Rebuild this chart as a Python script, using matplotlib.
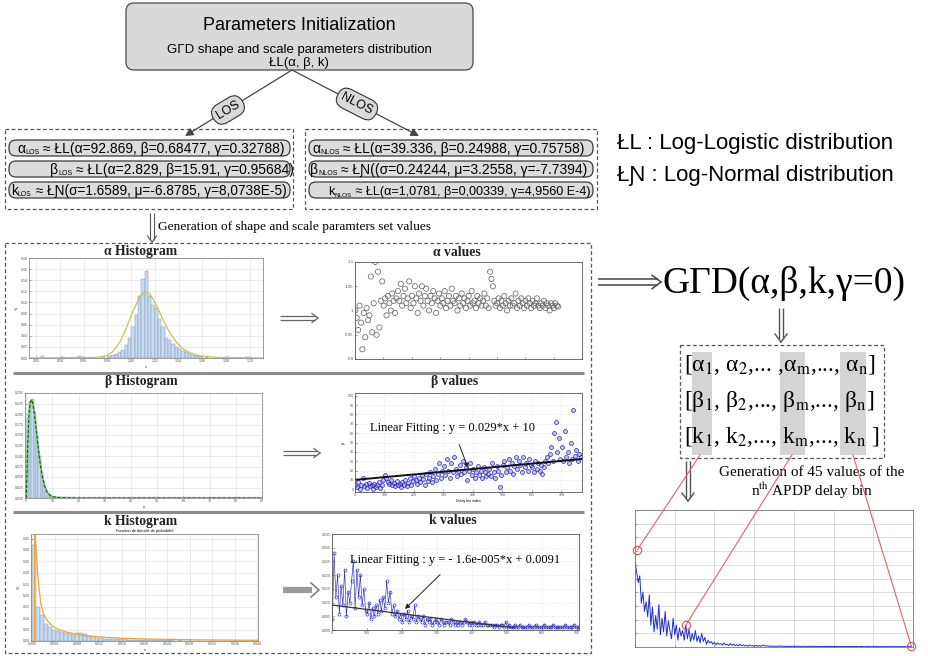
import numpy as np
import matplotlib
matplotlib.use("Agg")
import matplotlib.pyplot as plt
from matplotlib.patches import FancyBboxPatch, Rectangle, ConnectionPatch
from matplotlib.ticker import MultipleLocator, NullFormatter

plt.rcParams['font.family'] = ['Liberation Sans', 'DejaVu Sans']
SERIF = ['Liberation Serif', 'DejaVu Serif']

W, H = 929, 656

# ---------------- values ----------------
top_lines = ["Parameters Initialization",
             "GΓD shape and scale parameters distribution",
             "ŁL(α, β, k)"]
los_rows = [("α", "LOS", " ≈ ŁL(α=92.869, β=0.68477, γ=0.32788)"),
            ("β", "LOS", " ≈ ŁL(α=2.829, β=15.91, γ=0.95684)"),
            ("k", "LOS", " ≈ ŁƝ(σ=1.6589, μ=-6.8785, γ=8,0738E-5)")]
nlos_rows = [("α", "NLOS", " ≈ ŁL(α=39.336, β=0.24988, γ=0.75758)"),
             ("β", "NLOS", " ≈ ŁƝ((σ=0.24244, μ=3.2558, γ=-7.7394)"),
             ("k", "NLOS", " ≈ ŁL(α=1,0781, β=0,00339, γ=4,9560 E-4)")]
legend_lines = ["ŁL : Log-Logistic distribution",
                "ŁƝ : Log-Normal distribution"]
matrix_rows = ["[α$_1$, α$_2$,... ,α$_{\\rm m}$,..., α$_{\\rm n}$]",
               "[β$_1$, β$_2$,..., β$_{\\rm m}$,..., β$_{\\rm n}$]",
               "[k$_1$, k$_2$,..., k$_{\\rm m}$,..., k$_{\\rm n}$ ]"]

# alpha histogram (bin centre, density) and fitted pdf
alpha_hist_x = [0.9256, 0.9425, 0.9566, 0.9594, 0.9763, 0.9820, 0.9848,
                0.9876, 0.9904, 0.9932, 0.9960, 0.9988, 1.0016, 1.0044, 1.0072,
                1.0100, 1.0128, 1.0156, 1.0184, 1.0212, 1.0240, 1.0268, 1.0296,
                1.0324, 1.0352, 1.0380, 1.0408, 1.0436, 1.0464, 1.0492, 1.0520,
                1.0548, 1.0580, 1.0637, 1.0806, 1.0975]
alpha_hist_h = [0.004, 0.002, 0.003, 0.002, 0.002, 0.004, 0.005,
                0.008, 0.010, 0.015, 0.024, 0.036, 0.056, 0.078, 0.112,
                0.143, 0.156, 0.112, 0.096, 0.090, 0.070, 0.055, 0.036,
                0.033, 0.026, 0.020, 0.016, 0.013, 0.010, 0.008, 0.006,
                0.004, 0.003, 0.002, 0.002, 0.002]
alpha_fit_x = [0.914, 0.9707, 0.9792, 0.9848, 0.9904, 0.9961, 1.0017, 1.0073,
               1.0116, 1.0158, 1.0214, 1.0270, 1.0327, 1.0383, 1.0439, 1.0496,
               1.0580, 1.0721, 1.111]
alpha_fit_y = [0.0, 0.001, 0.004, 0.012, 0.028, 0.055, 0.085, 0.110,
               0.120, 0.115, 0.095, 0.068, 0.045, 0.028, 0.016, 0.009,
               0.004, 0.001, 0.0]

# beta histogram
beta_hist_x = [0.5, 1.4, 2.3, 3.2, 4.1, 5.0, 5.9, 6.8, 7.7, 8.6, 9.5, 10.4, 16.5]
beta_hist_h = [0.190, 0.228, 0.236, 0.205, 0.150, 0.100, 0.060, 0.030,
               0.014, 0.007, 0.004, 0.002, 0.001]
beta_fit_x = [0.0, 0.5, 1.0, 1.5, 2.0, 2.5, 3.0, 3.5, 4.0, 5.0, 6.0, 7.0,
              8.0, 9.5, 12.0, 20.0, 90.0]
beta_fit_y = [0.0, 0.120, 0.200, 0.228, 0.234, 0.225, 0.205, 0.180, 0.150,
              0.095, 0.055, 0.028, 0.013, 0.004, 0.001, 0.0, 0.0]

# k histogram
k_hist_x = [0.00035, 0.00105, 0.00175, 0.00245, 0.00315, 0.00385, 0.00455,
            0.00525, 0.00595, 0.00665, 0.00735, 0.00805, 0.00875, 0.00945,
            0.01015, 0.01085, 0.01155, 0.01225, 0.01295, 0.01365, 0.01435,
            0.01505, 0.01575, 0.01645, 0.01715, 0.01785, 0.01855, 0.01925,
            0.01995, 0.02065, 0.02135, 0.02205, 0.02275, 0.02345, 0.02415,
            0.02485, 0.02555, 0.02625, 0.02695, 0.02765, 0.02835, 0.02905,
            0.02975, 0.03045, 0.03115, 0.03185, 0.03255, 0.03325, 0.03395,
            0.03465, 0.03535, 0.03605, 0.03675, 0.03745, 0.03815, 0.03885]
k_hist_h = [0.420, 0.150, 0.113, 0.076, 0.062, 0.047, 0.042, 0.038, 0.035, 0.030,
            0.028, 0.034, 0.036, 0.030, 0.022, 0.018, 0.014, 0.012, 0.010, 0.009,
            0.010, 0.008, 0.007, 0.008, 0.006, 0.005, 0.006, 0.005, 0.004, 0.005,
            0.004, 0.004, 0.003, 0.004, 0.003, 0.003, 0.002, 0.003, 0.002, 0.002,
            0.002, 0.002, 0.001, 0.002, 0.001, 0.001, 0.001, 0.001, 0.001, 0.001,
            0.001, 0.001, 0.001, 0.001, 0.001, 0.002]
k_fit_x = [0.00040, 0.00047, 0.0006, 0.0008, 0.0010, 0.0015, 0.0020, 0.0027,
           0.0035, 0.0044, 0.0060, 0.0074, 0.0090, 0.0120, 0.0160, 0.0200,
           0.0250, 0.0300, 0.0350, 0.0401]
k_fit_y = [0.0, 0.50, 0.45, 0.36, 0.29, 0.17, 0.12, 0.09, 0.068, 0.054,
           0.040, 0.032, 0.025, 0.018, 0.012, 0.009, 0.007, 0.005, 0.004, 0.003]

# generated values, one every 5th delay bin index
alpha_vals = [1.000, 0.985, 0.960, 1.010, 0.975, 0.920, 0.995, 0.945, 1.005, 0.980,
              0.990, 1.070, 0.955, 1.015, 1.100, 0.950, 1.080, 0.965, 1.020, 1.060,
              1.010, 1.025, 0.990, 1.030, 1.015, 1.000, 1.035, 1.020, 0.995, 1.025,
              1.040, 1.020, 1.055, 1.010, 1.030, 1.045, 1.015, 1.025, 1.060, 1.005,
              1.030, 1.015, 1.050, 1.025, 0.995, 1.035, 1.020, 1.050, 1.010, 1.030,
              1.045, 1.020, 1.000, 1.030, 1.015, 1.040, 1.025, 0.995, 1.020, 1.035,
              1.010, 1.025, 1.015, 1.040, 1.005, 1.020, 1.030, 1.010, 1.045, 1.020,
              1.015, 1.030, 1.000, 1.025, 1.010, 1.035, 1.015, 1.025, 1.005, 1.020,
              1.030, 1.010, 1.040, 1.015, 1.020, 1.005, 1.030, 1.015, 1.025, 1.010,
              1.020, 1.035, 1.010, 1.025, 1.005, 1.080, 1.065, 1.050, 1.020, 1.010,
              1.015, 1.025, 1.005, 1.020, 1.010, 1.030, 1.015, 1.000, 1.020, 1.010,
              1.025, 1.010, 1.015, 1.035, 1.005, 1.020, 1.010, 1.025, 1.015, 1.005,
              1.020, 1.010, 1.025, 1.015, 1.005, 1.020, 1.010, 1.015, 1.025, 1.010,
              1.005, 1.015, 1.010, 1.020, 1.005, 1.015, 1.010, 1.000, 1.015, 1.010,
              1.005, 1.015, 1.010, 1.008]
beta_vals = [5, 2, 8, 0, 4, 12, 3, 6, 1, 7,
             3, 5, 0, 6, 2, 4, 8, 1, 5, 10,
             15, 12, 8, 6, 10, 4, 7, 3, 9, 5,
             6, 2, 8, 4, 10, 3, 7, 12, 5, 9,
             14, 10, 6, 12, 8, 15, 11, 5, 16, 9,
             12, 18, 8, 14, 22, 10, 16, 28, 12, 20,
             25, 15, 32, 20, 12, 28, 18, 35, 22, 14,
             20, 26, 16, 30, 18, 24, 10, 20, 28, 15,
             22, 12, 18, 25, 15, 20, 12, 24, 18, 14,
             16, 22, 14, 28, 18, 12, 25, 20, 2, 15,
             26, 30, 18, 24, 32, 20, 28, 16, 25, 34,
             22, 30, 26, 18, 35, 24, 28, 20, 32, 26,
             24, 18, 30, 22, 28, 20, 26, 16, 24, 30,
             35, 28, 38, 45, 30, 60, 72, 40, 55, 32,
             45, 30, 62, 35, 40, 28, 50, 32, 85, 36,
             42, 30, 38, 34]
k_vals = [0.004, 0.028, 0.012, 0.020, 0.006, 0.016, 0.009, 0.022, 0.005, 0.014,
          0.010, 0.018, 0.025, 0.008, 0.022, 0.012, 0.020, 0.009, 0.015, 0.007,
          0.006, 0.010, 0.004, 0.008, 0.005, 0.009, 0.006, 0.011, 0.007, 0.012,
          0.008, 0.018, 0.010, 0.014, 0.006, 0.009, 0.005, 0.007, 0.004, 0.006,
          0.003, 0.006, 0.004, 0.007, 0.003, 0.005, 0.004, 0.009, 0.003, 0.005,
          0.004, 0.003, 0.005, 0.002, 0.004, 0.003, 0.004, 0.002, 0.003, 0.004,
          0.003, 0.002, 0.004, 0.003, 0.002, 0.003, 0.003, 0.002, 0.004, 0.003,
          0.002, 0.003, 0.002, 0.003, 0.002, 0.003, 0.004, 0.003, 0.002, 0.003,
          0.002, 0.003, 0.002, 0.002, 0.003, 0.002, 0.002, 0.003, 0.002, 0.002,
          0.002, 0.002, 0.001, 0.002, 0.002, 0.001, 0.002, 0.002, 0.001, 0.003,
          0.001, 0.002, 0.001, 0.001, 0.002, 0.001, 0.001, 0.002, 0.001, 0.001,
          0.001, 0.001, 0.002, 0.001, 0.001, 0.001, 0.002, 0.001, 0.001, 0.001,
          0.001, 0.002, 0.001, 0.001, 0.001, 0.001, 0.002, 0.001, 0.001, 0.001,
          0.001, 0.001, 0.001, 0.002, 0.001, 0.001, 0.001, 0.001, 0.002, 0.001,
          0.001, 0.001]
beta_fit = (0.029, 10.0)      # y = 0.029*x + 10
k_fit = (-1.6e-5, 0.0091)     # y = -1.6e-005*x + 0.0091

# APDP delay bin: one sample every 2 units
apdp_vals = [0.62, 0.55, 0.47, 0.52, 0.32, 0.40, 0.26, 0.33, 0.22, 0.38,
             0.16, 0.29, 0.11, 0.23, 0.13, 0.31, 0.09, 0.21, 0.11, 0.26,
             0.08, 0.19, 0.12, 0.06, 0.21, 0.09, 0.16, 0.05, 0.14, 0.08,
             0.12, 0.05, 0.16, 0.06, 0.13, 0.04, 0.10, 0.05, 0.12, 0.04,
             0.08, 0.03, 0.10, 0.04, 0.07, 0.02, 0.05, 0.03, 0.04, 0.02,
             0.035, 0.015, 0.030, 0.020, 0.025, 0.012, 0.030, 0.015, 0.020, 0.010,
             0.025, 0.012, 0.020, 0.010, 0.018, 0.008, 0.020, 0.010, 0.015, 0.008,
             0.012, 0.006, 0.015, 0.008, 0.010, 0.005, 0.012, 0.006, 0.010, 0.005,
             0.008, 0.015, 0.006, 0.010, 0.005, 0.008, 0.004, 0.007, 0.005, 0.006,
             0.004, 0.008, 0.005, 0.007, 0.004, 0.006, 0.003, 0.006, 0.004, 0.005,
             0.006, 0.003, 0.007, 0.004, 0.005, 0.003, 0.006, 0.004, 0.003, 0.005,
             0.004, 0.006, 0.003, 0.005, 0.004, 0.003, 0.005, 0.003, 0.004, 0.003,
             0.005, 0.003, 0.004, 0.006, 0.003, 0.004, 0.003, 0.005, 0.003, 0.004,
             0.003, 0.004, 0.003, 0.005, 0.003, 0.004, 0.002, 0.004, 0.003, 0.003,
             0.004, 0.002, 0.003, 0.004, 0.002, 0.003, 0.002, 0.004, 0.003, 0.002,
             0.003, 0.002, 0.004, 0.002, 0.003, 0.002, 0.003, 0.002, 0.003, 0.002,
             0.002, 0.003, 0.002, 0.003, 0.002, 0.002, 0.003, 0.002, 0.002, 0.003,
             0.002, 0.002, 0.003, 0.002, 0.005]
apdp_marks_x = [3, 64, 348]
apdp_marks_y = [0.71, 0.16, 0.005]

# ---------------- drawing ----------------
fig = plt.figure(figsize=(W / 100, H / 100), dpi=100)
ax = fig.add_axes([0, 0, 1, 1])
ax.set_xlim(0, W)
ax.set_ylim(H, 0)
ax.axis('off')


def frac(x0, y0, x1, y1):
    return [x0 / W, 1 - y1 / H, (x1 - x0) / W, (y1 - y0) / H]


def rbox(x0, y0, x1, y1, r=7, fc='#dcdcdc', ec='#3a3a3a', lw=0.9):
    ax.add_patch(FancyBboxPatch((x0, y0), x1 - x0, y1 - y0,
                                boxstyle=f"round,pad=0,rounding_size={r}",
                                fc=fc, ec=ec, lw=lw))


def dbox(x0, y0, x1, y1):
    ax.add_patch(Rectangle((x0, y0), x1 - x0, y1 - y0, fill=False,
                           ec='#555555', lw=0.9, ls=(0, (3, 2))))


def dbl_arrow(x0, y0, x1, y1, gap=2.2, head=7.0, color='#555555', lw=1.1):
    p0 = np.array([x0, y0], float)
    p1 = np.array([x1, y1], float)
    d = (p1 - p0) / np.hypot(*(p1 - p0))
    n = np.array([-d[1], d[0]])
    for s in (1, -1):
        a = p0 + s * gap * n
        b = p1 - d * (gap / 0.75) + s * gap * n
        ax.plot([a[0], b[0]], [a[1], b[1]], color=color, lw=lw, solid_capstyle='butt')
        c = p1 - d * head + s * head * 0.75 * n
        ax.plot([c[0], p1[0]], [c[1], p1[1]], color=color, lw=lw)


def sub_text(x, y, base, sub, rest, fs):
    t1 = ax.text(x, y, base, fontsize=fs, va='baseline', ha='left')
    t2 = ax.annotate(sub, xy=(1, 0), xycoords=t1, fontsize=fs * 0.5,
                     va='bottom', ha='left')
    ax.annotate(rest, xy=(1, 0), xycoords=t2, fontsize=fs, va='bottom', ha='left')


def mini(a, fs=2.6, grid=True, edge='#8a8a8a'):
    a.tick_params(labelsize=fs, length=1.5, width=0.4, pad=1, direction='in',
                  colors='#555555')
    for s in a.spines.values():
        s.set_linewidth(0.6)
        s.set_color(edge)
    if grid:
        a.grid(True, color='#dedede', lw=0.4)
    a.set_axisbelow(True)


# top box
rbox(126, 3, 473, 70, r=8, fc='#d9d9d9', ec='#4a4a4a')
ax.text(299, 25, top_lines[0], fontsize=13, ha='center', va='center')
ax.text(299, 50, top_lines[1], fontsize=9.5, ha='center', va='center')
ax.text(299, 63, top_lines[2], fontsize=9.5, ha='center', va='center')

# LOS / NLOS branches
for tip in [(185, 136), (419, 136)]:
    ax.annotate('', xy=tip, xytext=(292, 70),
                arrowprops=dict(arrowstyle='-|>', color='#444444', lw=0.9,
                                mutation_scale=12, shrinkA=0, shrinkB=0))
lab_box = dict(boxstyle='round,pad=0.35,rounding_size=0.8', fc='#d9d9d9', ec='#333333', lw=0.8)
ax.text(228, 110, 'LOS', rotation=31, fontsize=9, ha='center', va='center', bbox=lab_box)
ax.text(357, 104, 'NLOS', rotation=-27, fontsize=9, ha='center', va='center', bbox=lab_box)

# parameter boxes
dbox(5, 129, 293, 209)
dbox(305, 129, 597, 209)
row_cy = [148, 169, 190]
los_x, los_fs = [17, 50, 11], [10, 10, 9.8]
nlos_x, nlos_fs = [312, 310, 328], [10, 10, 9.1]
for cy, row, x, fs in zip(row_cy, los_rows, los_x, los_fs):
    rbox(9, cy - 8, 290, cy + 8, r=7)
    sub_text(x, cy + 5, *row, fs=fs)
for cy, row, x, fs in zip(row_cy, nlos_rows, nlos_x, nlos_fs):
    rbox(309, cy - 8, 593, cy + 8, r=7)
    sub_text(x, cy + 5, *row, fs=fs)

for y, line in zip([144, 176], legend_lines):
    ax.text(617, y, line, fontsize=16, ha='left', va='center')

# generation arrow
dbl_arrow(152, 213, 152, 242, gap=1.8, head=6, color='#555555', lw=0.8)
ax.text(158, 227, 'Generation of shape and scale paramters set values',
        family=SERIF, fontsize=9.6, ha='left', va='center')

# big dashed frame and separators
dbox(5, 243, 591, 653)
for y in [373, 512]:
    ax.plot([13, 584], [y, y], color='#8c8c8c', lw=2.2, solid_capstyle='butt')

titles = [(141, 252, 'α Histogram'), (457, 252, 'α values'),
          (141, 382, 'β Histogram'), (455, 382, 'β values'),
          (141, 522, 'k Histogram'), (453, 521, 'k values')]
for x, y, t in titles:
    ax.text(x, y, t, family=SERIF, fontsize=9.8, fontweight='bold',
            ha='center', va='center', color='#222222')

dbl_arrow(280, 318, 318, 318, gap=2.0, head=6, color='#666666', lw=0.9)
dbl_arrow(283, 453, 320, 453, gap=2.0, head=6, color='#666666', lw=0.9)
ax.plot([283, 312], [590, 590], color='#9a9a9a', lw=4.5, solid_capstyle='butt')
ax.plot([311, 319, 311], [583, 590, 597], color='#777777', lw=1.1)

BAR = '#c6dcf4'
BAR_EDGE = '#8696aa'

# alpha histogram
a_h = fig.add_axes(frac(29, 258, 263, 358))
a_h.bar(alpha_hist_x, alpha_hist_h, width=0.0028, color=BAR, edgecolor=BAR_EDGE, linewidth=0.35)
a_h.plot(alpha_fit_x, alpha_fit_y, color='#c8c05a', lw=0.9)
a_h.set_xlim(0.914, 1.111)
a_h.set_ylim(0, 0.18)
a_h.xaxis.set_major_locator(MultipleLocator(0.02))
a_h.yaxis.set_major_locator(MultipleLocator(0.02))
a_h.set_ylabel('%', fontsize=2.6, labelpad=1)
a_h.set_xlabel('x', fontsize=2.6, labelpad=1)
mini(a_h)

# beta histogram
b_h = fig.add_axes(frac(25, 393, 262, 498))
b_h.bar(beta_hist_x, beta_hist_h, width=0.9, color=BAR, edgecolor=BAR_EDGE, linewidth=0.35)
b_h.plot(beta_fit_x, beta_fit_y, color='#86d086', lw=1.6)
b_h.plot(beta_fit_x, beta_fit_y, color='#1e5a1e', lw=0.8, ls=(0, (3, 1.5)))
b_h.set_xlim(-0.5, 90)
b_h.set_ylim(0, 0.25)
b_h.xaxis.set_major_locator(MultipleLocator(10))
b_h.yaxis.set_major_locator(MultipleLocator(0.025))
b_h.set_xlabel('x', fontsize=2.6, labelpad=1)
mini(b_h)

# k histogram
k_h = fig.add_axes(frac(31, 534, 258, 641))
k_h.bar(k_hist_x, k_hist_h, width=0.0007, color=BAR, edgecolor=BAR_EDGE, linewidth=0.35)
k_h.plot(k_fit_x, k_fit_y, color='#f0a435', lw=0.9)
k_h.set_xlim(-0.0002, 0.0401)
k_h.set_ylim(0, 0.47)
k_h.xaxis.set_major_locator(MultipleLocator(0.004))
k_h.yaxis.set_major_locator(MultipleLocator(0.05))
k_h.set_title('Fonction de densité de probabilité', fontsize=2.8, pad=1.5)
k_h.set_ylabel('%', fontsize=2.6, labelpad=1)
k_h.set_xlabel('x', fontsize=2.6, labelpad=1)
mini(k_h)

# alpha values
a_v = fig.add_axes(frac(355, 262, 582, 359))
ia = np.arange(len(alpha_vals)) * 5 + 1
a_v.scatter(ia, alpha_vals, s=14, facecolors='none', edgecolors='#666666', linewidths=0.55)
a_v.set_xlim(0, 800)
a_v.set_ylim(0.9, 1.1)
a_v.set_yticks([0.9, 0.95, 1.0, 1.05, 1.1])
a_v.set_yticklabels(['0.9', '0.95', '1', '1.05', '1.1'])
a_v.xaxis.set_major_locator(MultipleLocator(100))
a_v.xaxis.set_major_formatter(NullFormatter())
mini(a_v, fs=3.2, grid=False, edge='#555555')

# beta values
b_v = fig.add_axes(frac(355, 393, 582, 492))
ib = np.arange(len(beta_vals)) * 5 + 1
b_v.scatter(ib, beta_vals, s=8, facecolors=(0.35, 0.35, 0.95, 0.35),
            edgecolors='#2727b5', linewidths=0.5)
xb = np.array([0, 770])
b_v.plot(xb, beta_fit[0] * xb + beta_fit[1], color='#111111', lw=1.4)
b_v.set_xlim(0, 770)
b_v.set_ylim(-3, 103)
b_v.xaxis.set_major_locator(MultipleLocator(100))
b_v.yaxis.set_major_locator(MultipleLocator(10))
b_v.set_xlabel('Delay bin index', fontsize=2.6, labelpad=1)
b_v.set_ylabel('β', fontsize=2.6, labelpad=1)
mini(b_v, fs=2.6, edge='#555555')
b_v.grid(True, color='#d0d0d0', lw=0.4, ls=':')
b_v.annotate('Linear Fitting : y = 0.029*x + 10', xy=(468, 468), xycoords=ax.transData,
             xytext=(453, 428), textcoords=ax.transData, family=SERIF, fontsize=9,
             ha='center', va='center', annotation_clip=False,
             arrowprops=dict(arrowstyle='-|>', color='#222222', lw=0.7,
                             mutation_scale=7, shrinkA=6, shrinkB=0))

# k values
k_v = fig.add_axes(frac(332, 534, 579, 630))
ik = np.arange(len(k_vals)) * 5 + 1
k_v.plot(ik, k_vals, color='#2b2bc0', lw=0.45, marker='o', ms=2.2, mfc='none', mew=0.45)
xk = np.array([0, 520])
k_v.plot(xk, k_fit[0] * xk + k_fit[1], color='#333333', lw=0.9)
k_v.set_xlim(0, 705)
k_v.set_ylim(0, 0.035)
k_v.xaxis.set_major_locator(MultipleLocator(100))
k_v.yaxis.set_major_locator(MultipleLocator(0.005))
mini(k_v, fs=2.6, edge='#555555')
k_v.grid(True, color='#d0d0d0', lw=0.4, ls=':')
k_v.annotate('Linear Fitting : y = - 1.6e-005*x + 0.0091', xy=(405, 609), xycoords=ax.transData,
             xytext=(455, 560), textcoords=ax.transData, family=SERIF, fontsize=9,
             ha='center', va='center', annotation_clip=False,
             arrowprops=dict(arrowstyle='-|>', color='#222222', lw=0.7,
                             mutation_scale=7, shrinkA=6, shrinkB=0))

# right column
dbl_arrow(598, 282, 661, 282, gap=2.6, head=9, color='#444444', lw=1.1)
ax.text(663, 283, 'GΓD(α,β,k,γ=0)', family=SERIF, fontsize=27, ha='left', va='center')
dbl_arrow(781, 308, 781, 342, gap=2.2, head=8, color='#555555', lw=1.0)

for x0, x1 in [(692, 712), (780, 805), (840, 866)]:
    ax.add_patch(Rectangle((x0, 352), x1 - x0, 103, fc='#d4d4d4', ec='none'))
dbox(680, 345, 884, 458)
for y, row in zip([365, 401, 437], matrix_rows):
    ax.text(684, y, row, family=SERIF, math_fontfamily='stix', fontsize=17,
            ha='left', va='center')

dbl_arrow(688, 461, 688, 501, gap=2.2, head=8, color='#555555', lw=1.0)
ax.text(812, 473, 'Generation of 45 values of the', family=SERIF, fontsize=11,
        ha='center', va='center')
ax.text(812, 491, 'n$^{\\rm th}$ APDP delay bin', family=SERIF, math_fontfamily='stix',
        fontsize=11, ha='center', va='center')

apdp = fig.add_axes(frac(635, 510, 913, 647))
ip = np.arange(len(apdp_vals)) * 2
apdp.plot(ip, apdp_vals, color='#1f2fd0', lw=0.7)
apdp.plot(apdp_marks_x, apdp_marks_y, 'o', ms=6, mfc='none', mec='#e05050', mew=0.8,
          clip_on=False, zorder=5)
apdp.set_xlim(0, 350)
apdp.set_ylim(0, 1)
apdp.xaxis.set_major_locator(MultipleLocator(50))
apdp.yaxis.set_major_locator(MultipleLocator(0.1))
apdp.xaxis.set_major_formatter(NullFormatter())
apdp.yaxis.set_major_formatter(NullFormatter())
mini(apdp, grid=True, edge='#777777')
apdp.grid(True, color='#cfcfcf', lw=0.5)

for start, i in zip([(700, 455), (792, 455), (853, 455)], range(3)):
    con = ConnectionPatch(xyA=start, coordsA=ax.transData,
                          xyB=(apdp_marks_x[i], apdp_marks_y[i]), coordsB=apdp.transData,
                          color='#e06262', lw=0.8)
    fig.add_artist(con)

fig.savefig('out.png', dpi=100)
